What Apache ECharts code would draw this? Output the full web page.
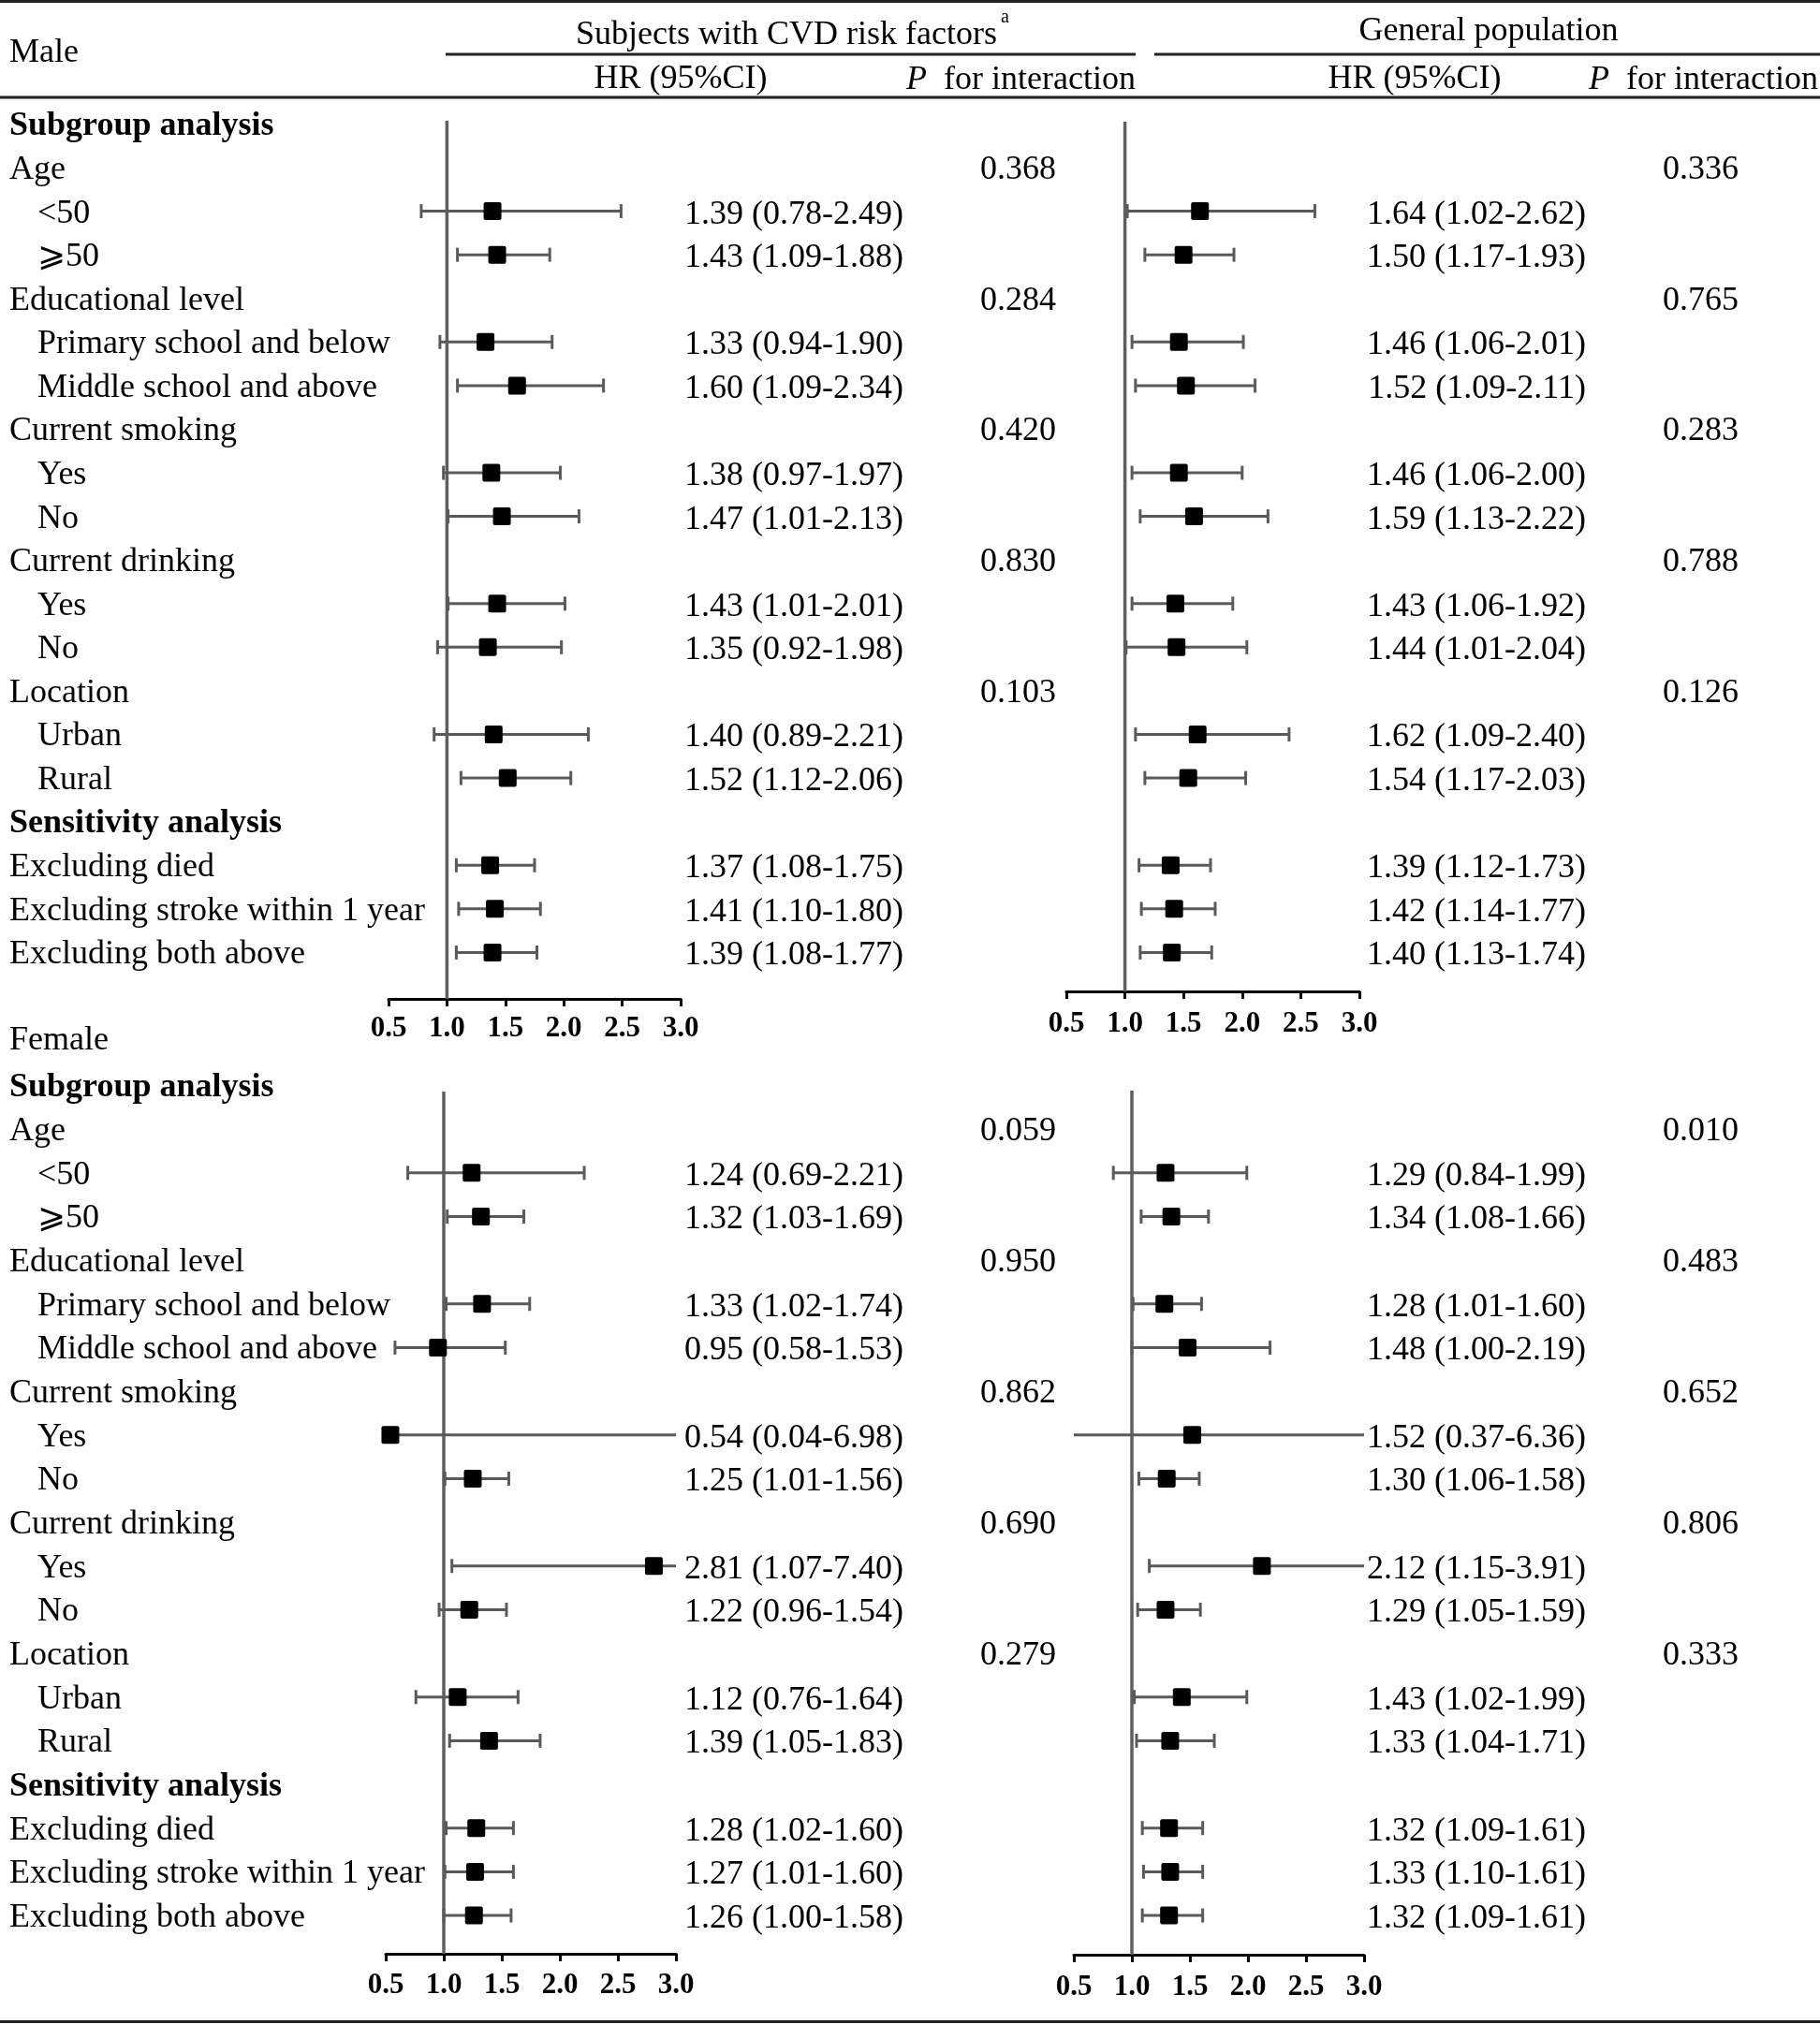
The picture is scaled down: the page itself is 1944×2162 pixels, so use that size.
<!DOCTYPE html>
<html><head><meta charset="utf-8">
<script src="https://cdn.jsdelivr.net/npm/echarts@6/dist/echarts.min.js"></script>
<style>html,body{margin:0;padding:0;background:#fff}#c{width:1944px;height:2162px}</style>
</head><body><div id="c"></div>
<script>
// ---------- DATA ----------
const rowLabels = ['Subgroup analysis','Age','<50','\u2A7E50','Educational level','Primary school and below','Middle school and above','Current smoking','Yes','No','Current drinking','Yes','No','Location','Urban','Rural','Sensitivity analysis','Excluding died','Excluding stroke within 1 year','Excluding both above'];
const boldRows = [0, 16];
const dataRows = [2,3,5,6,8,9,11,12,14,15,17,18,19];
const pRows = [1,4,7,10,13];
const xTicks = [0.5, 1.0, 1.5, 2.0, 2.5, 3.0];

const maleCvdHR = [1.39,1.43,1.33,1.60,1.38,1.47,1.43,1.35,1.40,1.52,1.37,1.41,1.39];
const maleCvdLo = [0.78,1.09,0.94,1.09,0.97,1.01,1.01,0.92,0.89,1.12,1.08,1.10,1.08];
const maleCvdHi = [2.49,1.88,1.90,2.34,1.97,2.13,2.01,1.98,2.21,2.06,1.75,1.80,1.77];
const maleCvdP  = [0.368,0.284,0.420,0.830,0.103];

const maleGenHR = [1.64,1.50,1.46,1.52,1.46,1.59,1.43,1.44,1.62,1.54,1.39,1.42,1.40];
const maleGenLo = [1.02,1.17,1.06,1.09,1.06,1.13,1.06,1.01,1.09,1.17,1.12,1.14,1.13];
const maleGenHi = [2.62,1.93,2.01,2.11,2.00,2.22,1.92,2.04,2.40,2.03,1.73,1.77,1.74];
const maleGenP  = [0.336,0.765,0.283,0.788,0.126];

const femCvdHR = [1.24,1.32,1.33,0.95,0.54,1.25,2.81,1.22,1.12,1.39,1.28,1.27,1.26];
const femCvdLo = [0.69,1.03,1.02,0.58,0.04,1.01,1.07,0.96,0.76,1.05,1.02,1.01,1.00];
const femCvdHi = [2.21,1.69,1.74,1.53,6.98,1.56,7.40,1.54,1.64,1.83,1.60,1.60,1.58];
const femCvdP  = [0.059,0.950,0.862,0.690,0.279];

const femGenHR = [1.29,1.34,1.28,1.48,1.52,1.30,2.12,1.29,1.43,1.33,1.32,1.33,1.32];
const femGenLo = [0.84,1.08,1.01,1.00,0.37,1.06,1.15,1.05,1.02,1.04,1.09,1.10,1.09];
const femGenHi = [1.99,1.66,1.60,2.19,6.36,1.58,3.91,1.59,1.99,1.71,1.61,1.61,1.61];
const femGenP  = [0.010,0.483,0.652,0.806,0.333];

// ---------- LAYOUT ----------
const FONT = '"Liberation Serif", "Times New Roman", serif';
const panels = [
  {hr:maleCvdHR, lo:maleCvdLo, hi:maleCvdHi, p:maleCvdP, left:415, right:727, top:129, bottom:1067, r0:132.4, s:46.58, hrRight:965, pRight:1128, lm:16, labels:true},
  {hr:maleGenHR, lo:maleGenLo, hi:maleGenHi, p:maleGenP, left:1139, right:1452, top:130, bottom:1059, r0:132.4, s:46.58, hrRight:1694, pRight:1857, lm:19, labels:false},
  {hr:femCvdHR, lo:femCvdLo, hi:femCvdHi, p:femCvdP, left:412, right:722, top:1166, bottom:2087, r0:1159.5, s:46.66, hrRight:965, pRight:1128, lm:18, labels:true},
  {hr:femGenHR, lo:femGenLo, hi:femGenHi, p:femGenP, left:1147, right:1457, top:1165, bottom:2088, r0:1159.5, s:46.66, hrRight:1694, pRight:1857, lm:19, labels:false}
];
const XMIN = xTicks[0], XMAX = xTicks[xTicks.length-1];
const WHISK = '#5a5a5a';
const TDY = 2.5; // text baseline nudge

const grids = [], xAxes = [], yAxes = [], series = [];
panels.forEach((P, gi) => {
  const yMin = (P.top - P.r0) / P.s, yMax = (P.bottom - P.r0) / P.s;
  grids.push({left:P.left, top:P.top, width:P.right-P.left, height:P.bottom-P.top, containLabel:false});
  xAxes.push({
    type:'value', gridIndex:gi, min:XMIN, max:XMAX, interval:0.5,
    axisLine:{show:true, onZero:false, lineStyle:{color:'#000', width:3}},
    axisTick:{show:true, inside:false, length:8, lineStyle:{color:'#000', width:3}},
    splitLine:{show:false},
    axisLabel:{show:true, margin:P.lm, color:'#000', fontFamily:FONT, fontWeight:'bold', fontSize:31,
      formatter: v => v.toFixed(1), showMinLabel:true, showMaxLabel:true}
  });
  yAxes.push({type:'value', gridIndex:gi, inverse:true, min:yMin, max:yMax, show:false, splitLine:{show:false}});

  // reference line at HR = 1
  series.push({
    type:'line', xAxisIndex:gi, yAxisIndex:gi, data:[[1, yMin],[1, yMax]],
    symbol:'none', lineStyle:{color:'#5f5f5f', width:3.5}, silent:true, z:1, clip:false
  });

  // forest marks
  series.push({
    type:'custom', xAxisIndex:gi, yAxisIndex:gi, z:3, clip:false,
    data: dataRows.map((r,k) => [r, P.hr[k], P.lo[k], P.hi[k]]),
    encode:{x:[1,2,3], y:0},
    renderItem:(params, api) => {
      const row = api.value(0), hr = api.value(1), lo = api.value(2), hi = api.value(3);
      const loC = Math.max(lo, XMIN), hiC = Math.min(hi, XMAX);
      const pL = api.coord([loC, row]), pH = api.coord([hiC, row]), pM = api.coord([hr, row]);
      const y = pM[1];
      const ch = [];
      ch.push({type:'line', shape:{x1:pL[0], y1:y, x2:pH[0], y2:y}, style:{stroke:WHISK, lineWidth:3}});
      if (lo >= XMIN) ch.push({type:'line', shape:{x1:pL[0], y1:y-7.5, x2:pL[0], y2:y+7.5}, style:{stroke:WHISK, lineWidth:3}});
      if (hi <= XMAX) ch.push({type:'line', shape:{x1:pH[0], y1:y-7.5, x2:pH[0], y2:y+7.5}, style:{stroke:WHISK, lineWidth:3}});
      ch.push({type:'rect', shape:{x:pM[0]-9.5, y:y-9.5, width:19, height:19, r:2}, style:{fill:'#000'}});
      ch.push({type:'text', x:P.hrRight, y:y+TDY+1, style:{
        text: hr.toFixed(2) + ' (' + lo.toFixed(2) + '-' + hi.toFixed(2) + ')',
        fontFamily:FONT, fontSize:36, fill:'#000', align:'right', verticalAlign:'middle'}});
      return {type:'group', children:ch};
    }
  });

  // P for interaction
  series.push({
    type:'custom', xAxisIndex:gi, yAxisIndex:gi, z:3, clip:false,
    data: pRows.map((r,k) => [1, r, P.p[k]]),
    encode:{x:0, y:1},
    renderItem:(params, api) => {
      const y = api.coord([1, api.value(1)])[1];
      return {type:'text', x:P.pRight, y:y+TDY, style:{text: api.value(2).toFixed(3),
        fontFamily:FONT, fontSize:36, fill:'#000', align:'right', verticalAlign:'middle'}};
    }
  });

  // row labels
  if (P.labels) {
    series.push({
      type:'custom', xAxisIndex:gi, yAxisIndex:gi, z:3, clip:false,
      data: rowLabels.map((t,i) => [1, i]),
      encode:{x:0, y:1},
      renderItem:(params, api) => {
        const i = api.value(1);
        const y = api.coord([1, i])[1];
        const bold = boldRows.indexOf(i) >= 0;
        const indent = dataRows.indexOf(i) >= 0 && i < boldRows[1];
        return {type:'text', x: indent ? 40 : 10, y:y+TDY, style:{text: rowLabels[i],
          fontFamily:FONT, fontSize:36, fontWeight: bold ? 'bold' : 'normal', fill:'#000', align:'left', verticalAlign:'middle'}};
      }
    });
  }
});

const txt = (text, x, y, align, extra) => Object.assign({type:'text', x, y, silent:true,
  style:Object.assign({text, fontFamily:FONT, fontSize:36, fill:'#000', align, verticalAlign:'middle'}, extra||{})});
const hline = (x1, x2, y) => ({type:'line', silent:true, shape:{x1, y1:y, x2, y2:y}, style:{stroke:'#222', lineWidth:3}});
const pRich = {rich:{i:{fontStyle:'italic', fontFamily:FONT, fontSize:36, fill:'#000'}}};

const graphic = [
  hline(0, 1944, 1.5),
  hline(476, 1213, 58),
  hline(1233, 1944, 58),
  hline(0, 1944, 104),
  hline(0, 1944, 2159.5),
  txt('Male', 10, 57, 'left'),
  txt('Subjects with CVD risk factors', 840, 38, 'center'),
  txt('a', 1069, 19, 'left', {fontSize:20}),
  txt('General population', 1590, 34, 'center'),
  txt('HR (95%CI)', 727, 85, 'center'),
  txt('{i|P}  for interaction', 1213, 86, 'right', pRich),
  txt('HR (95%CI)', 1511, 85, 'center'),
  txt('{i|P}  for interaction', 1942, 86, 'right', pRich),
  txt('Female', 10, 1112, 'left')
];

const chart = echarts.init(document.getElementById('c'), null, {renderer:'canvas'});
chart.setOption({
  animation:false,
  backgroundColor:'#fff',
  grid:grids, xAxis:xAxes, yAxis:yAxes, series:series, graphic:graphic
});
</script></body></html>
